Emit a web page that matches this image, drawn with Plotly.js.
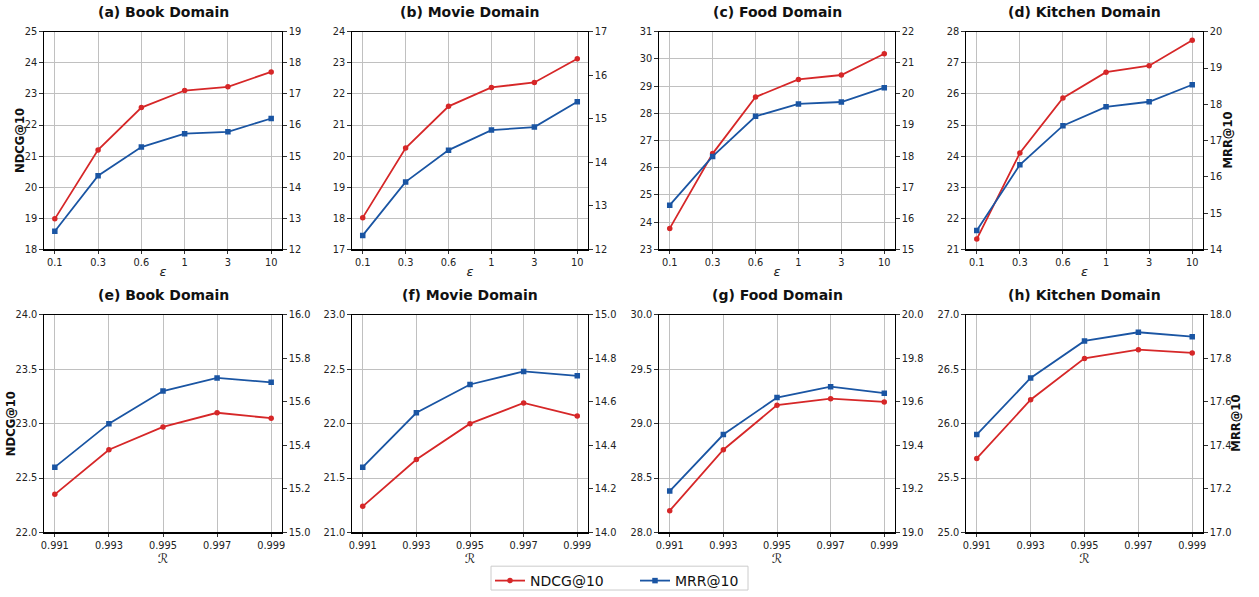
<!DOCTYPE html>
<html>
<head>
<meta charset="utf-8">
<script src="https://cdn.plot.ly/plotly-3.0.1.min.js"></script>
<style>html,body{margin:0;padding:0;background:#fff;}#chart{width:1259px;height:597px;}</style>
</head>
<body>
<div id="chart"></div>
<script>
// ---- data ----
const epsLabels = ['0.1', '0.3', '0.6', '1', '3', '10'];
const rLabels = ['0.991', '0.993', '0.995', '0.997', '0.999'];

const ndcgBookEps = [18.98, 21.20, 22.56, 23.11, 23.23, 23.71];
const mrrBookEps = [12.58, 14.37, 15.29, 15.72, 15.78, 16.21];
const ndcgMovieEps = [18.02, 20.26, 21.60, 22.21, 22.37, 23.13];
const mrrMovieEps = [12.32, 13.55, 14.28, 14.74, 14.81, 15.39];
const ndcgFoodEps = [23.77, 26.52, 28.60, 29.25, 29.41, 30.19];
const mrrFoodEps = [16.42, 17.99, 19.28, 19.68, 19.74, 20.20];
const ndcgKitchenEps = [21.33, 24.10, 25.87, 26.70, 26.91, 27.73];
const mrrKitchenEps = [14.52, 16.33, 17.41, 17.93, 18.07, 18.54];

const ndcgBookR = [22.35, 22.76, 22.97, 23.10, 23.05];
const mrrBookR = [15.30, 15.50, 15.65, 15.71, 15.69];
const ndcgMovieR = [21.24, 21.67, 22.00, 22.19, 22.07];
const mrrMovieR = [14.30, 14.55, 14.68, 14.74, 14.72];
const ndcgFoodR = [28.20, 28.76, 29.17, 29.23, 29.20];
const mrrFoodR = [19.19, 19.45, 19.62, 19.67, 19.64];
const ndcgKitchenR = [25.68, 26.22, 26.60, 26.68, 26.65];
const mrrKitchenR = [17.45, 17.71, 17.88, 17.92, 17.90];

const panelTitles = ['(a) Book Domain', '(b) Movie Domain', '(c) Food Domain', '(d) Kitchen Domain',
                     '(e) Book Domain', '(f) Movie Domain', '(g) Food Domain', '(h) Kitchen Domain'];

// ---- layout config ----
const W = 1259, H = 597;
const RED = '#d62728', BLUE = '#1a55a3';
const FONT = 'DejaVu Sans, sans-serif';
const colsPx = [[44, 282], [352, 588], [659, 895], [966, 1203]];
const rowsPx = [[32, 251], [317, 536]];
const titleY = [12, 297];
const leftTitleX = [19.5, 10.5];
const rightTitleX = [1228, 1236];

const panels = [
  {x: epsLabels, n: ndcgBookEps, m: mrrBookEps, yl: [18, 25], yr: [12, 19], dl: 1, dr: 1, f: ''},
  {x: epsLabels, n: ndcgMovieEps, m: mrrMovieEps, yl: [17, 24], yr: [12, 17], dl: 1, dr: 1, f: ''},
  {x: epsLabels, n: ndcgFoodEps, m: mrrFoodEps, yl: [23, 31], yr: [15, 22], dl: 1, dr: 1, f: ''},
  {x: epsLabels, n: ndcgKitchenEps, m: mrrKitchenEps, yl: [21, 28], yr: [14, 20], dl: 1, dr: 1, f: ''},
  {x: rLabels, n: ndcgBookR, m: mrrBookR, yl: [22, 24], yr: [15, 16], dl: 0.5, dr: 0.2, f: '.1f'},
  {x: rLabels, n: ndcgMovieR, m: mrrMovieR, yl: [21, 23], yr: [14, 15], dl: 0.5, dr: 0.2, f: '.1f'},
  {x: rLabels, n: ndcgFoodR, m: mrrFoodR, yl: [28, 30], yr: [19, 20], dl: 0.5, dr: 0.2, f: '.1f'},
  {x: rLabels, n: ndcgKitchenR, m: mrrKitchenR, yl: [25, 27], yr: [17, 18], dl: 0.5, dr: 0.2, f: '.1f'}
];

const data = [];
const layout = {
  width: W, height: H,
  margin: {l: 0, r: 0, t: 0, b: 0},
  paper_bgcolor: '#fff', plot_bgcolor: '#fff',
  font: {family: FONT, size: 10, color: '#222'},
  showlegend: true,
  legend: {
    orientation: 'h', x: 490 / W, xanchor: 'left', y: 1 - 585 / H, yanchor: 'middle',
    borderwidth: 0, bgcolor: 'rgba(0,0,0,0)',
    font: {family: FONT, size: 14, color: '#111'}, entrywidth: 100, tracegroupgap: 0
  },
  shapes: [{
    type: 'rect', xref: 'paper', yref: 'paper',
    x0: 491 / W, x1: 748 / W, y0: 1 - 594 / H, y1: 1 - 570 / H,
    line: {color: '#cccccc', width: 1}, fillcolor: 'rgba(0,0,0,0)', layer: 'below'
  }],
  annotations: []
};

const tickBase = {
  ticks: 'outside', ticklen: 3.5, tickwidth: 0.8, tickcolor: '#000',
  showline: true, linecolor: '#000', linewidth: 1.2,
  tickfont: {family: FONT, size: 9.8, color: '#222'},
  automargin: false, zeroline: false
};

panels.forEach((p, i) => {
  const row = Math.floor(i / 4), col = i % 4;
  const xid = i + 1, y1 = 2 * i + 1, y2 = 2 * i + 2;
  const xs = xid === 1 ? 'x' : 'x' + xid;
  const y1s = y1 === 1 ? 'y' : 'y' + y1;
  const y2s = 'y' + y2;
  const xdom = [colsPx[col][0] / W, colsPx[col][1] / W];
  const ydom = [1 - rowsPx[row][1] / H, 1 - rowsPx[row][0] / H];
  const nPts = p.x.length - 1;

  layout['xaxis' + (xid === 1 ? '' : xid)] = Object.assign({}, tickBase, {
    domain: xdom, anchor: y1s, type: 'category',
    range: [-0.05 * nPts, nPts + 0.05 * nPts],
    mirror: true, showgrid: true, gridcolor: '#c0c0c0', gridwidth: 1,
    title: {text: row === 0 ? 'ε' : 'ℛ', standoff: 0,
            font: {family: FONT, size: 13, color: '#222', style: 'italic'}}
  });
  layout['yaxis' + (y1 === 1 ? '' : y1)] = Object.assign({}, tickBase, {
    domain: ydom, anchor: xs, range: p.yl, dtick: p.dl, tick0: p.yl[0],
    tickformat: p.f, mirror: true, showgrid: true, gridcolor: '#c0c0c0', gridwidth: 1
  });
  layout['yaxis' + y2] = Object.assign({}, tickBase, {
    overlaying: y1s, side: 'right', anchor: xs, range: p.yr, dtick: p.dr, tick0: p.yr[0],
    tickformat: p.f, showgrid: false
  });

  data.push({
    type: 'scatter', mode: 'lines+markers', x: p.x, y: p.n, xaxis: xs, yaxis: y1s,
    name: 'NDCG@10', legendgroup: 'ndcg', showlegend: i === 0,
    line: {color: RED, width: 1.8}, marker: {symbol: 'circle', size: 5.5, color: RED}
  });
  data.push({
    type: 'scatter', mode: 'lines+markers', x: p.x, y: p.m, xaxis: xs, yaxis: y2s,
    name: 'MRR@10', legendgroup: 'mrr', showlegend: i === 0,
    line: {color: BLUE, width: 1.8}, marker: {symbol: 'square', size: 5.5, color: BLUE}
  });

  layout.annotations.push({
    text: '<b>' + panelTitles[i] + '</b>', xref: 'paper', yref: 'paper',
    x: (xdom[0] + xdom[1]) / 2, y: 1 - titleY[row] / H, xanchor: 'center', yanchor: 'middle',
    showarrow: false, font: {family: FONT, size: 14, color: '#111'}
  });
  const yc = 1 - (rowsPx[row][0] + rowsPx[row][1]) / 2 / H;
  if (col === 0) {
    layout.annotations.push({
      text: '<b>NDCG@10</b>', xref: 'paper', yref: 'paper', textangle: -90,
      x: leftTitleX[row] / W, y: yc, xanchor: 'center', yanchor: 'middle',
      showarrow: false, font: {family: FONT, size: 11.6, color: '#111'}
    });
  }
  if (col === 3) {
    layout.annotations.push({
      text: '<b>MRR@10</b>', xref: 'paper', yref: 'paper', textangle: -90,
      x: rightTitleX[row] / W, y: yc, xanchor: 'center', yanchor: 'middle',
      showarrow: false, font: {family: FONT, size: 11.6, color: '#111'}
    });
  }
});

Plotly.newPlot('chart', data, layout, {displayModeBar: false, staticPlot: true});
</script>
</body>
</html>
